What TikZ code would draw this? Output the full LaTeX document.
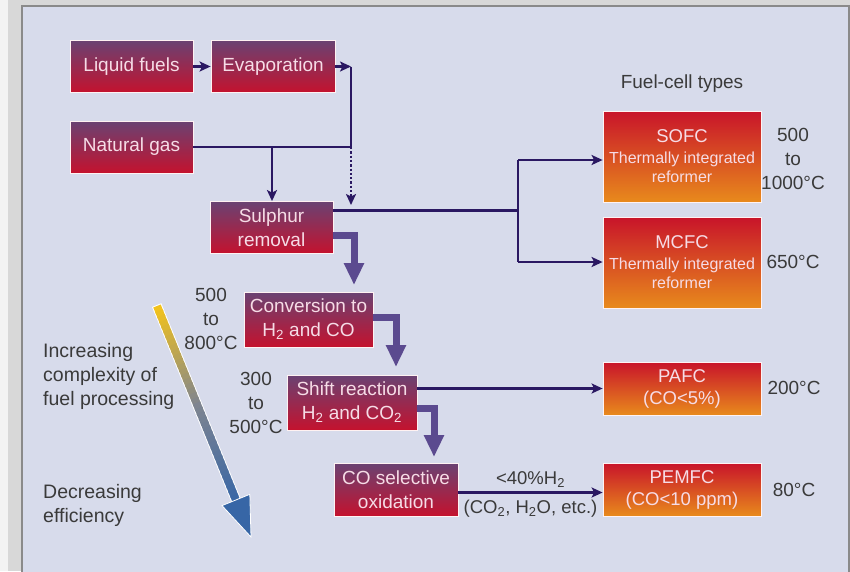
\documentclass[tikz,border=0pt]{standalone}
\usepackage{fontspec}
\setmainfont{Liberation Sans}
\usetikzlibrary{arrows.meta,calc}
\definecolor{panel}{HTML}{D7DBEB}
\definecolor{outer}{HTML}{D8D8D8}
\definecolor{outerw}{HTML}{F3F3F3}
\definecolor{frame}{HTML}{8A8A8A}
\definecolor{ptop}{HTML}{6A4272}
\definecolor{pbot}{HTML}{C4122E}
\definecolor{ftop}{HTML}{C8142A}
\definecolor{fbot}{HTML}{E88A1C}
\definecolor{boxtext}{HTML}{F6DCE6}
\definecolor{linec}{HTML}{2A1862}
\definecolor{bigc}{HTML}{5B4A8F}
\definecolor{labc}{HTML}{3A3A3A}
\definecolor{ayellow}{HTML}{F2C21C}
\definecolor{agray}{HTML}{7E8490}
\definecolor{ablue}{HTML}{3766A6}
\tikzset{
  pbox/.style={draw=white!80!pink, line width=0.8pt, top color=ptop, bottom color=pbot,
    text=boxtext, align=center, inner sep=0pt, font=\fontsize{19}{23.5}\selectfont},
  fbox/.style={draw=white!80!pink, line width=0.8pt, top color=ftop, bottom color=fbot,
    text=boxtext, align=center, inner sep=0pt, minimum width=158pt},
  link/.style={draw=linec, line width=2.3pt},
  arr/.style={-{Stealth[length=11pt,width=10pt,inset=2.5pt]}},
  bigarr/.style={draw=bigc, line width=7pt, line join=miter, -{Triangle[length=22pt,width=19pt]}},
  lbl/.style={text=labc, align=center, inner sep=0pt, font=\fontsize{19}{24}\selectfont},
  lbll/.style={text=labc, align=left, inner sep=0pt, font=\fontsize{19.5}{24}\selectfont},
}
\begin{document}
\begin{tikzpicture}[x=1pt,y=-1pt]
\useasboundingbox (0,0) rectangle (850,571);
\begin{scope}
\clip (0,0) rectangle (850,571);
\fill[outer] (0,0) rectangle (850,571);
\fill[outerw] (0,0) rectangle (8,571);
\filldraw[fill=panel, draw=frame, line width=2pt] (22,5.5) rectangle (848.5,590);
\end{scope}

% process boxes
\node[pbox, minimum width=123pt, minimum height=52pt] (liq) at (131.5,66.5) {Liquid fuels};
\node[pbox, minimum width=124pt, minimum height=52pt] (evap) at (273,66.5) {Evaporation};
\node[pbox, minimum width=123pt, minimum height=52pt] (ng) at (131.5,147) {Natural gas};
\node[pbox, minimum width=123pt, minimum height=52pt] (sulph) at (271.5,227.5) {Sulphur\\removal};
\node[pbox, minimum width=129pt, minimum height=55pt] (conv) at (308.5,319.5) {Conversion to\\H\textsubscript{2} and CO};
\node[pbox, minimum width=130pt, minimum height=55pt] (shift) at (352,402.5) {Shift reaction\\H\textsubscript{2} and CO\textsubscript{2}};
\node[pbox, minimum width=124pt, minimum height=53pt] (cosel) at (396,489.5) {CO selective\\oxidation};

% fuel cell boxes
\node[fbox, minimum height=91pt, font=\fontsize{16}{19}\selectfont] (sofc) at (682,156.5)
  {{\fontsize{18.5}{20}\selectfont SOFC}\\[2pt]Thermally integrated\\reformer};
\node[fbox, minimum height=91pt, font=\fontsize{16}{19}\selectfont] (mcfc) at (682,262.5)
  {{\fontsize{18.5}{20}\selectfont MCFC}\\[2pt]Thermally integrated\\reformer};
\node[fbox, minimum height=53pt, font=\fontsize{18.5}{22}\selectfont] (pafc) at (682,388.5) {PAFC\\(CO<5\%)};
\node[fbox, minimum height=53pt, font=\fontsize{18.5}{22}\selectfont] (pemfc) at (682,489.5) {PEMFC\\(CO<10 ppm)};

% labels
\node[lbl] (fct) at (682,84) {Fuel-cell types};
\node[lbl] (t1) at (793,159) {500\\to\\1000°C};
\node[lbl] (t2) at (793,262) {650°C};
\node[lbl] (t3) at (794,388) {200°C};
\node[lbl] (t4) at (794,490) {80°C};
\node[lbl] (t5) at (211,319) {500\\to\\800°C};
\node[lbl] (t6) at (256,403) {300\\to\\500°C};
\node[lbll, anchor=west] (inc) at (43,376) {Increasing\\complexity of\\fuel processing};
\node[lbll, anchor=west] (dec) at (43,505) {Decreasing\\efficiency};

% thin connectors
\coordinate (j1) at (351,66.5);
\coordinate (j2) at (351,147);
\coordinate (j3) at (351,205);
\coordinate (j4) at (272,147);
\coordinate (s1) at (518,210.5);
\coordinate (b1) at (518,160);
\coordinate (b2) at (518,262);
\draw[link, arr] (liq) -- (evap);
\draw[link, arr] (evap) -- (j1);
\draw[link] (j1) -- (j2);
\draw[link, dotted, arr] (j2) -- (j3);
\draw[link] (ng) -- (j2);
\draw[link, arr] (j4) -- (j4 |- sulph.north);
\draw[link] (sulph.east |- s1) -- (s1);
\draw[link] (b1) -- (b2);
\draw[link, arr] (b1) -- (b1 -| sofc.west);
\draw[link, arr] (b2) -- (b2 -| mcfc.west);
\draw[link, arr] (shift.east |- pafc.west) -- (pafc.west);
\draw[link, arr] ([yshift=-3pt]cosel.east) -- ([yshift=-3pt]pemfc.west)
  node[pos=0.5, above=4pt, lbl, font=\fontsize{18.5}{22}\selectfont] (h2) {<40\%H\textsubscript{2}}
  node[pos=0.5, below=6pt, lbl, font=\fontsize{18.5}{22}\selectfont] (etc) {(CO\textsubscript{2}, H\textsubscript{2}O, etc.)};

% thick process arrows
\coordinate (k1) at (354,285);
\coordinate (k2) at (396,367);
\coordinate (k3) at (434,457);
\draw[bigarr] ([yshift=-7.5pt]sulph.east) -| (k1);
\draw[bigarr] ([yshift=2pt]conv.east) -| (k2);
\draw[bigarr] ([yshift=-6pt]shift.east) -| (k3);

% gradient arrow
\coordinate (S) at (157,306);
\coordinate (T) at (251,537);
\coordinate (H) at ($(T)!40pt!(S)$);
\draw[white, line width=10pt] ($(S)!-1pt!(H)$) -- (H);
\foreach \i in {0,...,39}{
  \pgfmathsetmacro{\ta}{\i/40}
  \pgfmathsetmacro{\tb}{(\i+1.4)/40}
  \ifnum\i<20
    \pgfmathtruncatemacro{\pc}{100-\i*5}
    \colorlet{segc}{ayellow!\pc!agray}
  \else
    \pgfmathtruncatemacro{\pc}{100-(\i-20)*5}
    \colorlet{segc}{agray!\pc!ablue}
  \fi
  \draw[segc, line width=8pt] ($(S)!\ta!(H)$) -- ($(S)!\tb!(H)$);
}
\filldraw[fill=ablue, draw=white, line width=0.8pt, line join=miter]
  (T) -- ($(H)!15pt!90:(T)$) -- ($(H)!15pt!-90:(T)$) -- cycle;
\end{tikzpicture}
\end{document}
